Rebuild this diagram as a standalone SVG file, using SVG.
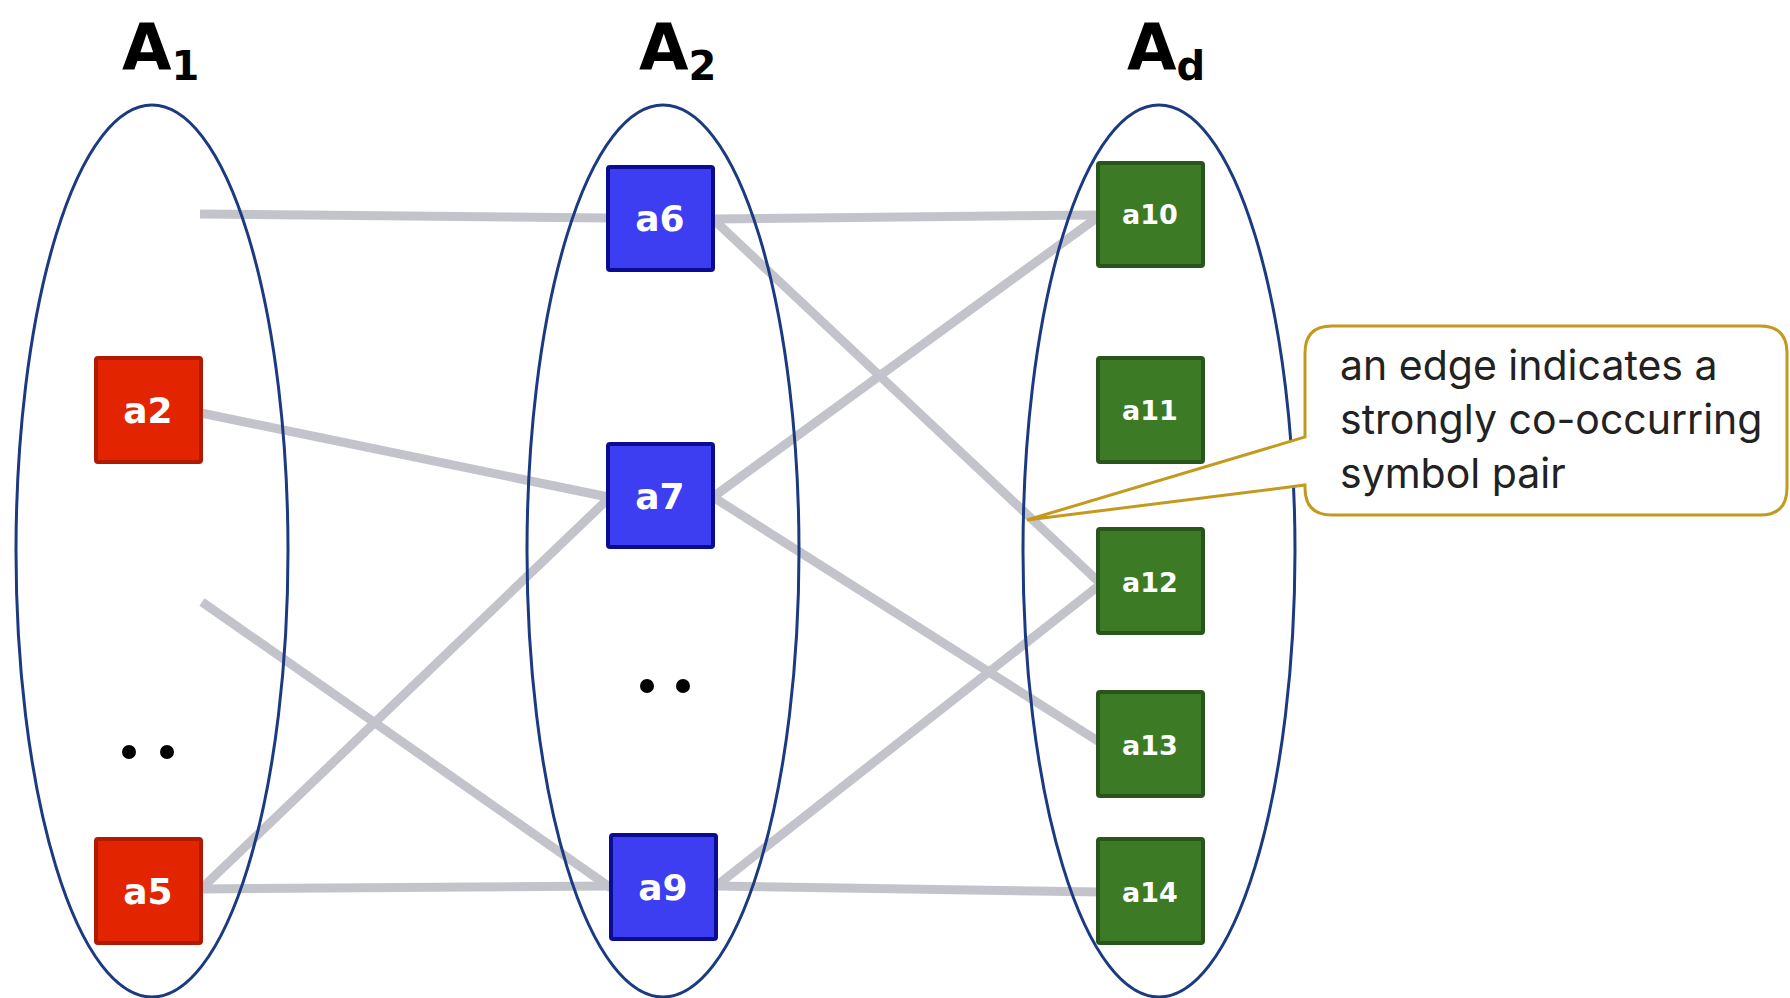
<svg xmlns="http://www.w3.org/2000/svg" width="1790" height="998" viewBox="0 0 1790 998">
<style>
.title{font-family:"DejaVu Sans",Verdana,sans-serif;font-weight:bold;fill:#000}
.set{fill:none;stroke:#1b3a82;stroke-width:3}
.edge{stroke:#c3c3cc;stroke-width:9;fill:none}
.red{fill:#e22400;stroke:#b01a00;stroke-width:4}
.blue{fill:#3d3df2;stroke:#0c0c92;stroke-width:4}
.green{fill:#3c7a26;stroke:#28561a;stroke-width:4}
.lbl{font-family:"DejaVu Sans",Verdana,sans-serif;font-weight:bold;fill:#fff;text-anchor:middle}
.big{font-size:36px}
.small{font-size:27px}
.dot{fill:#000}
.call{fill:#fff;stroke:#c49a1e;stroke-width:3}
.ctext{font-family:Inter,"Open Sans",sans-serif;font-size:41px;fill:#222}
</style>
<rect width="1790" height="998" fill="#fff"/>
<g id="titles">
<text class="title" x="122" y="70" font-size="64">A<tspan font-size="40" dy="10">1</tspan></text>
<text class="title" x="639" y="70" font-size="64">A<tspan font-size="40" dy="10">2</tspan></text>
<text class="title" x="1127" y="70" font-size="64">A<tspan font-size="40" dy="10">d</tspan></text>
</g>
<g id="connectors">
<line class="edge" x1="200" y1="214" x2="608" y2="218"/>
<line class="edge" x1="713" y1="219" x2="1098" y2="215"/>
<line class="edge" x1="713" y1="219" x2="1101" y2="584"/>
<line class="edge" x1="201" y1="413" x2="608" y2="497"/>
<line class="edge" x1="713" y1="497" x2="1098" y2="217"/>
<line class="edge" x1="713" y1="497" x2="1101" y2="743"/>
<line class="edge" x1="202" y1="602" x2="611" y2="888"/>
<line class="edge" x1="201" y1="889" x2="608" y2="499"/>
<line class="edge" x1="201" y1="889" x2="611" y2="886"/>
<line class="edge" x1="716" y1="886" x2="1101" y2="584"/>
<line class="edge" x1="716" y1="886" x2="1101" y2="892"/>
</g>
<g id="set-A1"><ellipse class="set" cx="152" cy="551" rx="136" ry="446"/></g>
<g id="set-A2"><ellipse class="set" cx="663" cy="551" rx="136" ry="446"/></g>
<g id="set-Ad"><ellipse class="set" cx="1159" cy="551" rx="136" ry="446"/></g>
<g id="dots1"><circle class="dot" cx="129" cy="752" r="7"/><circle class="dot" cx="167" cy="752" r="7"/></g>
<g id="dots2"><circle class="dot" cx="647" cy="686" r="7"/><circle class="dot" cx="683" cy="686" r="7"/></g>
<g id="a2"><rect class="red" x="96" y="358" width="105" height="104" rx="2"/><text class="lbl big" x="148" y="423">a2</text></g>
<g id="a5"><rect class="red" x="96" y="839" width="105" height="104" rx="2"/><text class="lbl big" x="148" y="904">a5</text></g>
<g id="a6"><rect class="blue" x="608" y="167" width="105" height="103" rx="2"/><text class="lbl big" x="660" y="231">a6</text></g>
<g id="a7"><rect class="blue" x="608" y="444" width="105" height="103" rx="2"/><text class="lbl big" x="660" y="509">a7</text></g>
<g id="a9"><rect class="blue" x="611" y="835" width="105" height="104" rx="2"/><text class="lbl big" x="663" y="900">a9</text></g>
<g id="a10"><rect class="green" x="1098" y="163" width="105" height="103" rx="2"/><text class="lbl small" x="1150" y="224">a10</text></g>
<g id="a11"><rect class="green" x="1098" y="358" width="105" height="104" rx="2"/><text class="lbl small" x="1150" y="420">a11</text></g>
<g id="a12"><rect class="green" x="1098" y="529" width="105" height="104" rx="2"/><text class="lbl small" x="1150" y="592">a12</text></g>
<g id="a13"><rect class="green" x="1098" y="692" width="105" height="104" rx="2"/><text class="lbl small" x="1150" y="755">a13</text></g>
<g id="a14"><rect class="green" x="1098" y="839" width="105" height="104" rx="2"/><text class="lbl small" x="1150" y="902">a14</text></g>
<g id="callout">
<path class="call" d="M1332,326 H1760 Q1787,326 1787,353 V488 Q1787,515 1760,515 H1332 Q1305,515 1305,488 V485 L1027,520 L1305,437 V353 Q1305,326 1332,326 Z"/>
<text class="ctext" x="1340" y="380">an edge indicates a</text>
<text class="ctext" x="1340" y="434">strongly co-occurring</text>
<text class="ctext" x="1340" y="488">symbol pair</text>
</g>
</svg>
